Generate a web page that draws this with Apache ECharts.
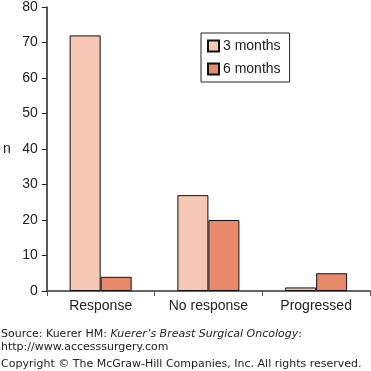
<!DOCTYPE html>
<html><head><meta charset="utf-8">
<script src="https://cdn.jsdelivr.net/npm/echarts@6/dist/echarts.min.js"></script>
<style>html,body{margin:0;padding:0;background:#fff}#c{width:371px;height:371px}</style>
</head><body><div id="c"></div>
<script>
const categories = ['Response', 'No response', 'Progressed'];
const threeMonths = [72, 27, 1];
const sixMonths = [4, 20, 5];
const yTicks = [0, 80, 10];
const seriesNames = ['3 months', '6 months'];

const chart = echarts.init(document.getElementById('c'), null, {renderer: 'canvas'});
const font = '"Liberation Sans", Arial, Helvetica, sans-serif';
const srcFont = '"DejaVu Sans", Verdana, sans-serif';
chart.setOption({
  animation: false,
  backgroundColor: '#fff',
  grid: {left: 43, right: 1, top: 5, bottom: 80, containLabel: false},
  legend: {
    data: seriesNames,
    orient: 'vertical',
    left: 201, top: 33,
    padding: [6, 9, 6, 6],
    borderColor: '#222', borderWidth: 1,
    itemWidth: 11, itemHeight: 11, itemGap: 9,
    icon: 'rect',
    textStyle: {fontFamily: font, fontSize: 14, color: '#222', padding: [0, 0, 0, -1]}
  },
  xAxis: {
    type: 'category', data: categories,
    axisLine: {lineStyle: {color: '#333', width: 1.5}},
    axisTick: {show: true, length: 5, alignWithLabel: false, lineStyle: {color: '#555'}},
    axisLabel: {fontFamily: font, fontSize: 14, color: '#222', margin: 8}
  },
  yAxis: {
    type: 'value', min: yTicks[0], max: yTicks[1], interval: yTicks[2],
    name: 'n', nameLocation: 'middle', nameRotate: 0, nameGap: 36,
    nameTextStyle: {fontFamily: font, fontSize: 14, color: '#222'},
    axisLine: {show: true, lineStyle: {color: '#222', width: 1.5}},
    axisTick: {show: true, length: 5, lineStyle: {color: '#222'}},
    axisLabel: {fontFamily: font, fontSize: 14, color: '#222', margin: 9},
    splitLine: {show: false}
  },
  series: [
    {name: seriesNames[0], type: 'bar', data: threeMonths, barWidth: 31, barGap: '0%',
     itemStyle: {color: '#F6C8B3', borderColor: '#111', borderWidth: 1}},
    {name: seriesNames[1], type: 'bar', data: sixMonths, barWidth: 31, barGap: '0%',
     itemStyle: {color: '#E8896B', borderColor: '#111', borderWidth: 1}}
  ],
  graphic: [
    {type: 'text', left: 1, top: 329, style: {
      text: 'Source: Kuerer HM: {i|Kuerer\u2019s Breast Surgical Oncology}:',
      font: '11px ' + srcFont, fill: '#222',
      rich: {i: {fontStyle: 'italic', fontFamily: srcFont, fontSize: 11, fill: '#222'}}
    }},
    {type: 'text', left: 1, top: 342, style: {text: 'http://www.accesssurgery.com', font: '11px ' + srcFont, fill: '#222'}},
    {type: 'text', left: 1, top: 359, style: {text: 'Copyright \u00a9 The McGraw-Hill Companies, Inc. All rights reserved.', font: '11px ' + srcFont, fill: '#222'}}
  ]
});
</script></body></html>
